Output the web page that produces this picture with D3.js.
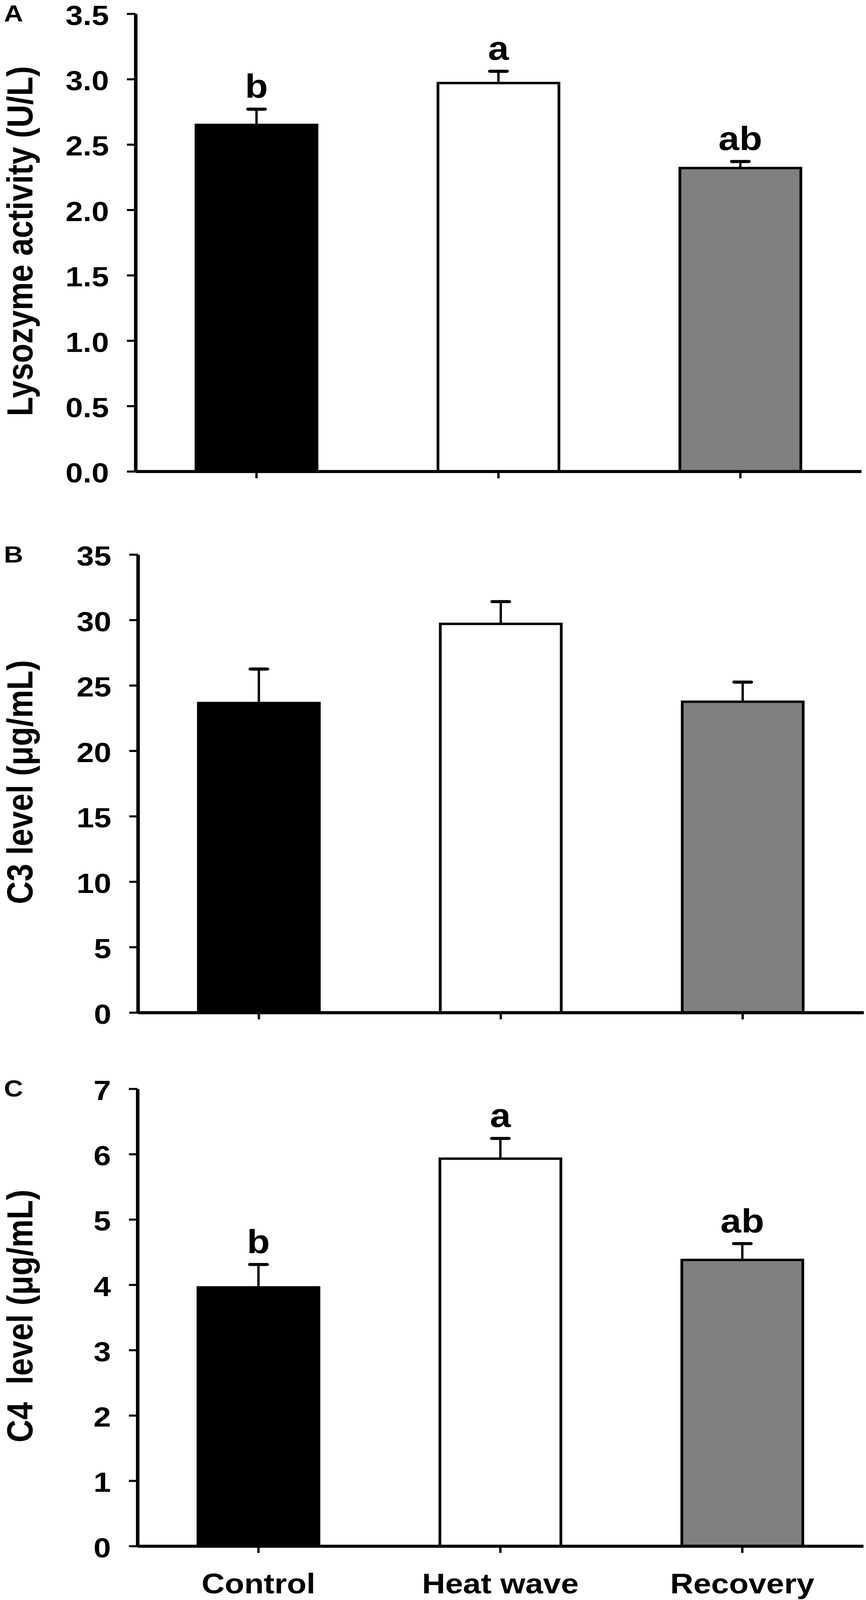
<!DOCTYPE html>
<html>
<head>
<meta charset="utf-8">
<script src="https://cdn.jsdelivr.net/npm/d3@7"></script>
<style>
    html, body { margin: 0; padding: 0; background: #ffffff; overflow: hidden; }
    text { font-family: "Liberation Sans", Arial, sans-serif; font-weight: bold; fill: #000; }
</style>
</head>
<body>
<svg id="chart"></svg>
<script>
// *** The data ***
var categories = ["Control", "Heat wave", "Recovery"];

var lysozymeMean = [2.65, 2.97, 2.32];
var lysozymeSE = [0.12, 0.09, 0.05];
var lysozymeLetters = ["b", "a", "ab"];
var lysozymeTicks = [0, 0.5, 1.0, 1.5, 2.0, 2.5, 3.0, 3.5];

var c3Mean = [23.65, 29.7, 23.75];
var c3SE = [2.6, 1.7, 1.5];
var c3Letters = ["", "", ""];
var c3Ticks = [0, 5, 10, 15, 20, 25, 30, 35];

var c4Mean = [3.96, 5.93, 4.38];
var c4SE = [0.35, 0.31, 0.25];
var c4Letters = ["b", "a", "ab"];
var c4Ticks = [0, 1, 2, 3, 4, 5, 6, 7];

var panelLetters = ["A", "B", "C"];
var yTitles = ["Lysozyme activity (U/L)", "C3 level (\u03bcg/mL)", "C4  level (\u03bcg/mL)"];

// *** Define Our Variables ***
var svgWidth = 2217, svgHeight = 4657;
var barFills = ["#000000", "#ffffff", "#808080"];
var plotWidth = 1858;

var panels = [
    { letter: panelLetters[0], title: yTitles[0], mean: lysozymeMean, se: lysozymeSE, letters: lysozymeLetters,
      ticks: lysozymeTicks, fmt: d3.format(".1f"), left: 347, top: 40, bottom: 1372, showX: false },
    { letter: panelLetters[1], title: yTitles[1], mean: c3Mean, se: c3SE, letters: c3Letters,
      ticks: c3Ticks, fmt: d3.format("d"), left: 353, top: 1614, bottom: 2947, showX: false },
    { letter: panelLetters[2], title: yTitles[2], mean: c4Mean, se: c4SE, letters: c4Letters,
      ticks: c4Ticks, fmt: d3.format("d"), left: 352, top: 3169, bottom: 4500, showX: true }
];

// *** Selecting the SVG Tag *** (viewBox so the whole figure fits the window)
var svg = d3.select("#chart")
    .attr("viewBox", "0 0 " + svgWidth + " " + svgHeight)
    .attr("preserveAspectRatio", "none")
    .attr("width", window.innerWidth || svgWidth)
    .attr("height", window.innerHeight || svgHeight)
    .attr("display", "block");

panels.forEach(function (p) {
    var rows = categories.map(function (c, i) {
        return { cat: c, mean: p.mean[i], se: p.se[i], letter: p.letters[i], fill: barFills[i] };
    });

    // *** Scales ***
    var xScale = d3.scaleBand()
        .domain(categories)
        .range([p.left, p.left + plotWidth])
        .paddingInner(0.5)
        .paddingOuter(0.25);

    var yScale = d3.scaleLinear()
        .domain([0, d3.max(p.ticks)])
        .range([p.bottom, p.top]);

    var g = svg.append("g");

    // *** The bars ***
    g.selectAll("rect")
        .data(rows)
        .enter()
        .append("rect")
        .attr("x", function (d) { return xScale(d.cat); })
        .attr("width", xScale.bandwidth())
        .attr("y", function (d) { return yScale(d.mean); })
        .attr("height", function (d) { return yScale(0) - yScale(d.mean); })
        .attr("fill", function (d) { return d.fill; })
        .attr("stroke", "#000")
        .attr("stroke-width", 7);

    // *** Error bars (upper half only) ***
    var err = g.selectAll(".err")
        .data(rows)
        .enter()
        .append("g")
        .attr("class", "err");

    err.append("line")
        .attr("x1", function (d) { return xScale(d.cat) + xScale.bandwidth() / 2; })
        .attr("x2", function (d) { return xScale(d.cat) + xScale.bandwidth() / 2; })
        .attr("y1", function (d) { return yScale(d.mean); })
        .attr("y2", function (d) { return yScale(d.mean + d.se); })
        .attr("stroke", "#000")
        .attr("stroke-width", 6);

    err.append("line")
        .attr("x1", function (d) { return xScale(d.cat) + xScale.bandwidth() / 2 - 22; })
        .attr("x2", function (d) { return xScale(d.cat) + xScale.bandwidth() / 2 + 22; })
        .attr("y1", function (d) { return yScale(d.mean + d.se); })
        .attr("y2", function (d) { return yScale(d.mean + d.se); })
        .attr("stroke", "#000")
        .attr("stroke-width", 9)
        .attr("stroke-linecap", "round");

    // *** Significance letters ***
    g.selectAll(".sig")
        .data(rows)
        .enter()
        .append("text")
        .attr("class", "sig")
        .attr("x", function (d) { return xScale(d.cat) + xScale.bandwidth() / 2; })
        .attr("y", function (d) { return yScale(d.mean + d.se) - 33; })
        .attr("text-anchor", "middle")
        .style("font-size", "96px")
        .text(function (d) { return d.letter; });

    // *** The Axes ***
    var y_axis = d3.axisLeft(yScale)
        .tickValues(p.ticks)
        .tickFormat(p.fmt)
        .tickSize(22)
        .tickSizeOuter(0)
        .tickPadding(46);

    var yG = g.append("g")
        .attr("transform", "translate(" + p.left + ",0)")
        .call(y_axis);

    var x_axis = d3.axisBottom(xScale)
        .tickSize(20)
        .tickSizeOuter(0)
        .tickPadding(59)
        .tickFormat(p.showX ? null : "");

    var xG = g.append("g")
        .attr("transform", "translate(0," + p.bottom + ")")
        .call(x_axis);

    [yG, xG].forEach(function (ax) {
        ax.select(".domain").attr("stroke", "#000").attr("stroke-width", 9);
        ax.selectAll(".tick line").attr("stroke", "#000").attr("stroke-width", 6);
        ax.selectAll(".tick text")
            .attr("fill", "#000")
            .style("font-family", "'Liberation Sans', Arial, sans-serif")
            .style("font-weight", "bold");
    });
    yG.selectAll(".tick text").style("font-size", "80px").attr("dy", "0.4em");
    xG.selectAll(".tick text").style("font-size", "82px");

    // *** Y title and panel letter ***
    g.append("text")
        .attr("transform", "translate(83," + ((p.top + p.bottom) / 2 - 4) + ") rotate(-90)")
        .attr("text-anchor", "middle")
        .style("font-size", "92px")
        .style("white-space", "pre")
        .text(p.title);

    g.append("text")
        .attr("x", 10)
        .attr("y", p.top + 23)
        .style("font-size", "68px")
        .text(p.letter);
});
</script>
</body>
</html>
